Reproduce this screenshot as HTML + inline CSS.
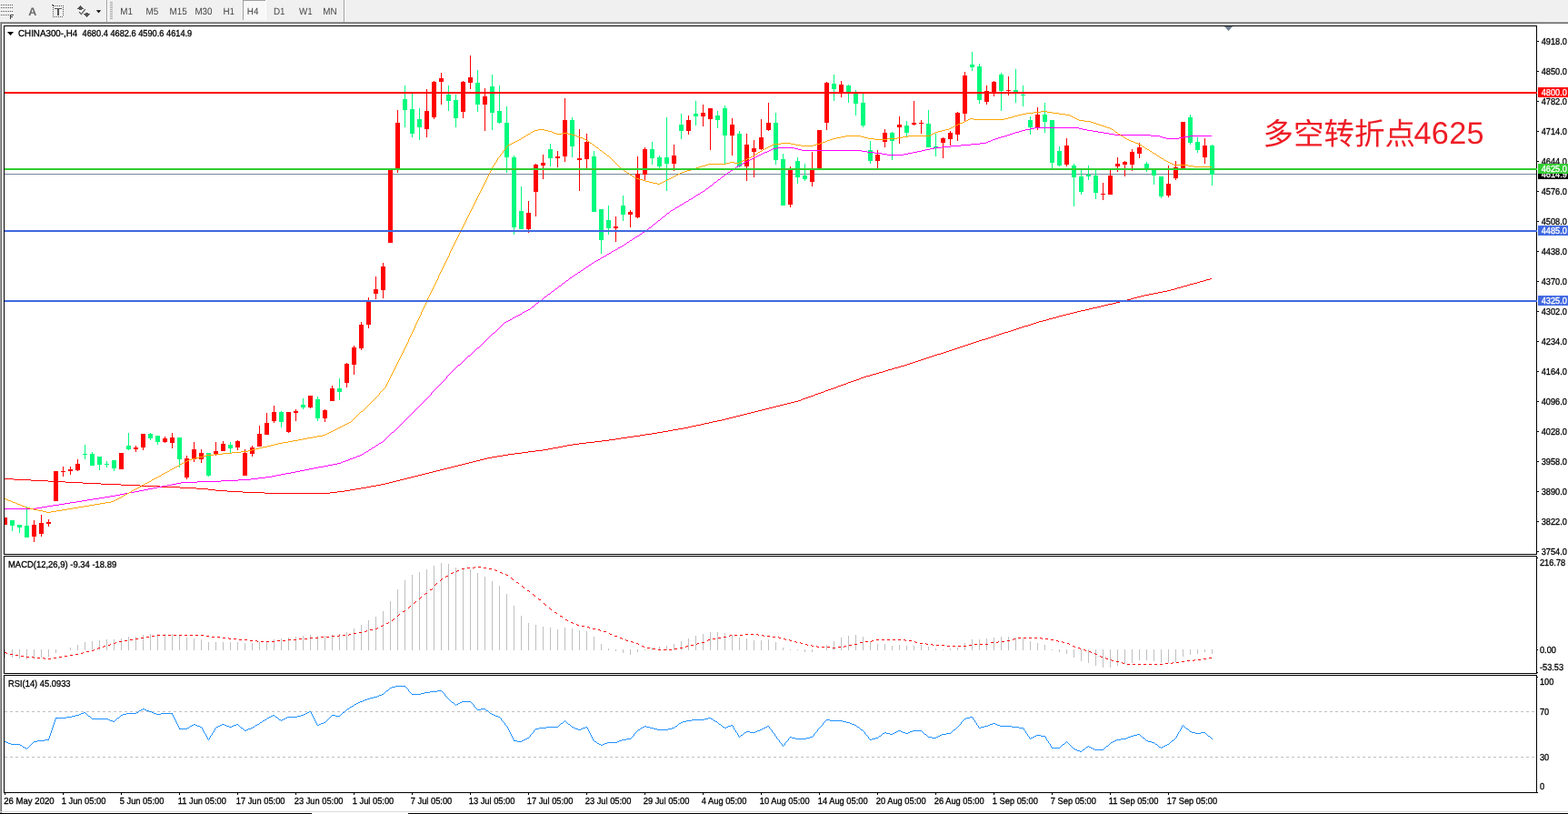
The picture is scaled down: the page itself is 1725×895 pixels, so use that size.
<!DOCTYPE html>
<html><head><meta charset="utf-8"><title>CHINA300-,H4</title>
<style>
html,body{margin:0;padding:0;background:#fff;}
body{width:1725px;height:895px;overflow:hidden;position:relative;}
svg{position:absolute;left:0;top:0;display:block;}
text{font-family:"Liberation Sans","Noto Sans CJK SC",sans-serif;text-rendering:geometricPrecision;}
.t{font-size:10.17px;fill:#000;stroke:#000;stroke-width:0.3px;}
.w{font-size:10.17px;fill:#fff;stroke:#fff;stroke-width:0.3px;}
.tf{font-size:10.6px;fill:#444;}
.note{font-size:33.5px;fill:#ee1c25;font-weight:400;}
.noted{font-size:34.3px;letter-spacing:0.3px;}
</style></head><body>
<svg width="1725" height="895" viewBox="0 0 1725 895">
<g id="toolbar" shape-rendering="crispEdges">
<rect x="0" y="0" width="1725" height="24" fill="#f0f0f0"/>
<rect x="0" y="24" width="1725" height="1" fill="#a0a0a0"/>
<rect x="0" y="25" width="1725" height="1" fill="#696969"/>
<rect x="0" y="24" width="1" height="871" fill="#a0a0a0"/><rect x="1" y="25" width="1" height="870" fill="#696969"/>
<rect x="117" y="0" width="1" height="24" fill="#a0a0a0"/><rect x="118" y="0" width="1" height="24" fill="#fff"/>
<rect x="378" y="0" width="1" height="24" fill="#a0a0a0"/><rect x="379" y="0" width="1" height="24" fill="#fff"/>
<rect x="121" y="2" width="3" height="1" fill="#a8a8a8"/><rect x="121" y="4" width="3" height="1" fill="#a8a8a8"/><rect x="121" y="6" width="3" height="1" fill="#a8a8a8"/><rect x="121" y="8" width="3" height="1" fill="#a8a8a8"/><rect x="121" y="10" width="3" height="1" fill="#a8a8a8"/><rect x="121" y="12" width="3" height="1" fill="#a8a8a8"/><rect x="121" y="14" width="3" height="1" fill="#a8a8a8"/><rect x="121" y="16" width="3" height="1" fill="#a8a8a8"/><rect x="121" y="18" width="3" height="1" fill="#a8a8a8"/><rect x="121" y="20" width="3" height="1" fill="#a8a8a8"/>
<rect x="267" y="0" width="25" height="22" fill="#f8f8f8"/><rect x="267" y="0" width="1" height="22" fill="#a0a0a0"/><rect x="267" y="0" width="25" height="1" fill="#a0a0a0"/><rect x="292" y="0" width="1" height="22" fill="#fff"/>
<rect x="1" y="5" width="1" height="1" fill="#555"/><rect x="3" y="5" width="1" height="1" fill="#555"/><rect x="5" y="5" width="1" height="1" fill="#555"/><rect x="7" y="5" width="1" height="1" fill="#555"/><rect x="9" y="5" width="1" height="1" fill="#555"/><rect x="11" y="5" width="1" height="1" fill="#555"/><rect x="13" y="5" width="1" height="1" fill="#555"/><rect x="1" y="8" width="1" height="1" fill="#555"/><rect x="3" y="8" width="1" height="1" fill="#555"/><rect x="5" y="8" width="1" height="1" fill="#555"/><rect x="7" y="8" width="1" height="1" fill="#555"/><rect x="9" y="8" width="1" height="1" fill="#555"/><rect x="11" y="8" width="1" height="1" fill="#555"/><rect x="13" y="8" width="1" height="1" fill="#555"/><rect x="1" y="12" width="1" height="1" fill="#555"/><rect x="3" y="12" width="1" height="1" fill="#555"/><rect x="5" y="12" width="1" height="1" fill="#555"/><rect x="7" y="12" width="1" height="1" fill="#555"/><rect x="9" y="12" width="1" height="1" fill="#555"/><rect x="11" y="12" width="1" height="1" fill="#555"/><rect x="13" y="12" width="1" height="1" fill="#555"/><rect x="1" y="16" width="1" height="1" fill="#555"/><rect x="3" y="16" width="1" height="1" fill="#555"/><rect x="5" y="16" width="1" height="1" fill="#555"/><rect x="7" y="16" width="1" height="1" fill="#555"/><rect x="9" y="16" width="1" height="1" fill="#555"/><path d="M11 16h4v1h-3v1h2v1h-2v2h-1z" fill="#444"/>
<rect x="57" y="5" width="1" height="1" fill="#555"/><rect x="58" y="5" width="1" height="1" fill="#555"/><rect x="58" y="6" width="1" height="1" fill="#555"/><rect x="59" y="6" width="1" height="1" fill="#555"/><rect x="61" y="6" width="1" height="1" fill="#555"/><rect x="63" y="6" width="1" height="1" fill="#555"/><rect x="65" y="6" width="1" height="1" fill="#555"/><rect x="67" y="6" width="1" height="1" fill="#555"/><rect x="69" y="6" width="1" height="1" fill="#555"/><rect x="58" y="8" width="1" height="1" fill="#555"/><rect x="58" y="10" width="1" height="1" fill="#555"/><rect x="58" y="12" width="1" height="1" fill="#555"/><rect x="58" y="14" width="1" height="1" fill="#555"/><rect x="58" y="16" width="1" height="1" fill="#555"/><rect x="58" y="18" width="1" height="1" fill="#555"/><rect x="69" y="8" width="1" height="1" fill="#555"/><rect x="69" y="10" width="1" height="1" fill="#555"/><rect x="69" y="12" width="1" height="1" fill="#555"/><rect x="69" y="14" width="1" height="1" fill="#555"/><rect x="69" y="16" width="1" height="1" fill="#555"/><rect x="60" y="18" width="1" height="1" fill="#555"/><rect x="62" y="18" width="1" height="1" fill="#555"/><rect x="64" y="18" width="1" height="1" fill="#555"/><rect x="66" y="18" width="1" height="1" fill="#555"/><rect x="68" y="18" width="1" height="1" fill="#555"/><rect x="60" y="9" width="8" height="1" fill="#555"/><rect x="63" y="10" width="2" height="7" fill="#555"/>
</g>
<text x="31.3" y="17" style="font-size:12.5px;font-weight:bold;fill:#666">A</text>
<g fill="#555" shape-rendering="crispEdges"><rect x="88" y="6" width="1" height="1"/><rect x="87" y="7" width="3" height="1"/><rect x="86" y="8" width="5" height="1"/><rect x="85" y="9" width="7" height="1"/><rect x="87" y="10" width="3" height="1"/><rect x="94" y="14" width="3" height="1"/><rect x="92" y="15" width="7" height="1"/><rect x="93" y="16" width="5" height="1"/><rect x="94" y="17" width="3" height="1"/><rect x="95" y="18" width="1" height="1"/></g><path d="M87.1 13.2L89.4 15.6L93.8 10.1" fill="none" stroke="#555" stroke-width="1.2"/>
<path d="M105.8 11.2h5.4l-2.7 3z" fill="#000"/>
<text class="tf" transform="translate(132.2,16) scale(0.93,1)">M1</text><text class="tf" transform="translate(160.5,16) scale(0.93,1)">M5</text><text class="tf" transform="translate(186.6,16) scale(0.93,1)">M15</text><text class="tf" transform="translate(214.4,16) scale(0.93,1)">M30</text><text class="tf" transform="translate(245.4,16) scale(0.93,1)">H1</text><text class="tf" transform="translate(271.8,16) scale(0.93,1)">H4</text><text class="tf" transform="translate(301,16) scale(0.93,1)">D1</text><text class="tf" transform="translate(329,16) scale(0.93,1)">W1</text><text class="tf" transform="translate(355.3,16) scale(0.93,1)">MN</text>
<g id="frames" shape-rendering="crispEdges" fill="#000">
<rect x="4" y="28" width="1687" height="1"/><rect x="4" y="28" width="1" height="844"/><rect x="1690" y="28" width="1" height="844"/><rect x="4" y="609" width="1687" height="1"/><rect x="4" y="610" width="1687" height="1" fill="#fff"/><rect x="4" y="611" width="1687" height="1"/><rect x="4" y="740" width="1687" height="1"/><rect x="4" y="741" width="1687" height="1" fill="#fff"/><rect x="4" y="742" width="1687" height="1"/><rect x="4" y="871" width="1687" height="1"/><rect x="0" y="892" width="1725" height="1" fill="#dcdcdc"/><rect x="0" y="894" width="343" height="1"/><rect x="449" y="894" width="1276" height="1"/>
<rect x="1691" y="45" width="2" height="1"/><rect x="1691" y="78" width="2" height="1"/><rect x="1691" y="111" width="2" height="1"/><rect x="1691" y="144" width="2" height="1"/><rect x="1691" y="177" width="2" height="1"/><rect x="1691" y="210" width="2" height="1"/><rect x="1691" y="243" width="2" height="1"/><rect x="1691" y="276" width="2" height="1"/><rect x="1691" y="309" width="2" height="1"/><rect x="1691" y="342" width="2" height="1"/><rect x="1691" y="375" width="2" height="1"/><rect x="1691" y="408" width="2" height="1"/><rect x="1691" y="441" width="2" height="1"/><rect x="1691" y="474" width="2" height="1"/><rect x="1691" y="507" width="2" height="1"/><rect x="1691" y="540" width="2" height="1"/><rect x="1691" y="573" width="2" height="1"/><rect x="1691" y="606" width="2" height="1"/><rect x="1691" y="613" width="1" height="1"/><rect x="1691" y="714" width="1" height="1"/><rect x="1691" y="739" width="1" height="1"/><rect x="1691" y="744" width="1" height="1"/><rect x="1691" y="871" width="1" height="1"/><rect x="5" y="872" width="1" height="2"/><rect x="69" y="872" width="1" height="2"/><rect x="133" y="872" width="1" height="2"/><rect x="197" y="872" width="1" height="2"/><rect x="261" y="872" width="1" height="2"/><rect x="325" y="872" width="1" height="2"/><rect x="389" y="872" width="1" height="2"/><rect x="453" y="872" width="1" height="2"/><rect x="517" y="872" width="1" height="2"/><rect x="581" y="872" width="1" height="2"/><rect x="645" y="872" width="1" height="2"/><rect x="709" y="872" width="1" height="2"/><rect x="773" y="872" width="1" height="2"/><rect x="837" y="872" width="1" height="2"/><rect x="901" y="872" width="1" height="2"/><rect x="965" y="872" width="1" height="2"/><rect x="1029" y="872" width="1" height="2"/><rect x="1093" y="872" width="1" height="2"/><rect x="1157" y="872" width="1" height="2"/><rect x="1221" y="872" width="1" height="2"/><rect x="1285" y="872" width="1" height="2"/></g>
<g id="main" shape-rendering="crispEdges">
<rect x="5" y="191" width="1685" height="1" fill="#778899"/>
<g id="candles">
<rect x="5" y="569" width="1" height="8" fill="#ff0000"/><rect x="5" y="569" width="3" height="8" fill="#ff0000"/>
<rect x="13" y="572" width="1" height="12" fill="#00fa7d"/><rect x="11" y="572" width="5" height="6" fill="#00fa7d"/>
<rect x="21" y="577" width="1" height="9" fill="#00fa7d"/><rect x="19" y="577" width="5" height="3" fill="#00fa7d"/>
<rect x="29" y="557" width="1" height="34" fill="#00fa7d"/><rect x="27" y="578" width="5" height="13" fill="#00fa7d"/>
<rect x="37" y="572" width="1" height="24" fill="#ff0000"/><rect x="35" y="577" width="5" height="13" fill="#ff0000"/>
<rect x="45" y="566" width="1" height="24" fill="#ff0000"/><rect x="43" y="575" width="5" height="12" fill="#ff0000"/>
<rect x="53" y="571" width="1" height="8" fill="#ff0000"/><rect x="51" y="574" width="5" height="2" fill="#ff0000"/>
<rect x="61" y="518" width="1" height="33" fill="#ff0000"/><rect x="59" y="518" width="5" height="33" fill="#ff0000"/>
<rect x="69" y="513" width="1" height="11" fill="#ff0000"/><rect x="67" y="518" width="5" height="1" fill="#ff0000"/>
<rect x="77" y="513" width="1" height="9" fill="#ff0000"/><rect x="75" y="516" width="5" height="2" fill="#ff0000"/>
<rect x="85" y="505" width="1" height="13" fill="#ff0000"/><rect x="83" y="510" width="5" height="7" fill="#ff0000"/>
<rect x="93" y="489" width="1" height="16" fill="#00fa7d"/><rect x="91" y="499" width="5" height="1" fill="#00fa7d"/>
<rect x="101" y="497" width="1" height="15" fill="#00fa7d"/><rect x="99" y="499" width="5" height="13" fill="#00fa7d"/>
<rect x="109" y="502" width="1" height="15" fill="#00fa7d"/><rect x="107" y="502" width="5" height="9" fill="#00fa7d"/>
<rect x="117" y="507" width="1" height="7" fill="#00fa7d"/><rect x="115" y="510" width="5" height="1" fill="#00fa7d"/>
<rect x="125" y="506" width="1" height="12" fill="#00fa7d"/><rect x="123" y="506" width="5" height="9" fill="#00fa7d"/>
<rect x="133" y="498" width="1" height="18" fill="#ff0000"/><rect x="131" y="498" width="5" height="18" fill="#ff0000"/>
<rect x="141" y="476" width="1" height="19" fill="#00fa7d"/><rect x="139" y="490" width="5" height="4" fill="#00fa7d"/>
<rect x="149" y="490" width="1" height="7" fill="#ff0000"/><rect x="147" y="492" width="5" height="2" fill="#ff0000"/>
<rect x="157" y="477" width="1" height="18" fill="#ff0000"/><rect x="155" y="477" width="5" height="15" fill="#ff0000"/>
<rect x="165" y="476" width="1" height="8" fill="#00fa7d"/><rect x="163" y="477" width="5" height="5" fill="#00fa7d"/>
<rect x="173" y="479" width="1" height="10" fill="#00fa7d"/><rect x="171" y="479" width="5" height="7" fill="#00fa7d"/>
<rect x="181" y="480" width="1" height="7" fill="#ff0000"/><rect x="179" y="482" width="5" height="4" fill="#ff0000"/>
<rect x="189" y="476" width="1" height="17" fill="#ff0000"/><rect x="187" y="481" width="5" height="6" fill="#ff0000"/>
<rect x="197" y="481" width="1" height="33" fill="#00fa7d"/><rect x="195" y="481" width="5" height="24" fill="#00fa7d"/>
<rect x="205" y="501" width="1" height="26" fill="#ff0000"/><rect x="203" y="504" width="5" height="21" fill="#ff0000"/>
<rect x="213" y="486" width="1" height="22" fill="#ff0000"/><rect x="211" y="494" width="5" height="11" fill="#ff0000"/>
<rect x="221" y="494" width="1" height="15" fill="#ff0000"/><rect x="219" y="498" width="5" height="7" fill="#ff0000"/>
<rect x="229" y="498" width="1" height="26" fill="#00fa7d"/><rect x="227" y="498" width="5" height="25" fill="#00fa7d"/>
<rect x="237" y="486" width="1" height="15" fill="#ff0000"/><rect x="235" y="496" width="5" height="4" fill="#ff0000"/>
<rect x="245" y="485" width="1" height="11" fill="#ff0000"/><rect x="243" y="488" width="5" height="8" fill="#ff0000"/>
<rect x="253" y="486" width="1" height="13" fill="#00fa7d"/><rect x="251" y="489" width="5" height="4" fill="#00fa7d"/>
<rect x="261" y="484" width="1" height="11" fill="#ff0000"/><rect x="259" y="485" width="5" height="7" fill="#ff0000"/>
<rect x="269" y="494" width="1" height="29" fill="#ff0000"/><rect x="267" y="498" width="5" height="25" fill="#ff0000"/>
<rect x="277" y="490" width="1" height="12" fill="#ff0000"/><rect x="275" y="492" width="5" height="7" fill="#ff0000"/>
<rect x="285" y="468" width="1" height="23" fill="#ff0000"/><rect x="283" y="477" width="5" height="14" fill="#ff0000"/>
<rect x="293" y="454" width="1" height="24" fill="#ff0000"/><rect x="291" y="465" width="5" height="13" fill="#ff0000"/>
<rect x="301" y="446" width="1" height="19" fill="#ff0000"/><rect x="299" y="453" width="5" height="10" fill="#ff0000"/>
<rect x="309" y="452" width="1" height="18" fill="#00fa7d"/><rect x="307" y="453" width="5" height="11" fill="#00fa7d"/>
<rect x="317" y="453" width="1" height="23" fill="#ff0000"/><rect x="315" y="453" width="5" height="22" fill="#ff0000"/>
<rect x="325" y="450" width="1" height="13" fill="#ff0000"/><rect x="323" y="452" width="5" height="2" fill="#ff0000"/>
<rect x="333" y="438" width="1" height="12" fill="#00fa7d"/><rect x="331" y="445" width="5" height="3" fill="#00fa7d"/>
<rect x="341" y="435" width="1" height="14" fill="#ff0000"/><rect x="339" y="435" width="5" height="13" fill="#ff0000"/>
<rect x="349" y="436" width="1" height="27" fill="#00fa7d"/><rect x="347" y="439" width="5" height="21" fill="#00fa7d"/>
<rect x="357" y="450" width="1" height="14" fill="#ff0000"/><rect x="355" y="451" width="5" height="9" fill="#ff0000"/>
<rect x="365" y="424" width="1" height="17" fill="#ff0000"/><rect x="363" y="427" width="5" height="14" fill="#ff0000"/>
<rect x="373" y="416" width="1" height="24" fill="#00fa7d"/><rect x="371" y="427" width="5" height="4" fill="#00fa7d"/>
<rect x="381" y="399" width="1" height="27" fill="#ff0000"/><rect x="379" y="400" width="5" height="21" fill="#ff0000"/>
<rect x="389" y="380" width="1" height="32" fill="#ff0000"/><rect x="387" y="382" width="5" height="19" fill="#ff0000"/>
<rect x="397" y="354" width="1" height="31" fill="#ff0000"/><rect x="395" y="357" width="5" height="26" fill="#ff0000"/>
<rect x="405" y="327" width="1" height="34" fill="#ff0000"/><rect x="403" y="331" width="5" height="26" fill="#ff0000"/>
<rect x="413" y="304" width="1" height="25" fill="#ff0000"/><rect x="411" y="318" width="5" height="5" fill="#ff0000"/>
<rect x="421" y="289" width="1" height="39" fill="#ff0000"/><rect x="419" y="293" width="5" height="26" fill="#ff0000"/>
<rect x="429" y="185" width="1" height="82" fill="#ff0000"/><rect x="427" y="185" width="5" height="82" fill="#ff0000"/>
<rect x="437" y="121" width="1" height="69" fill="#ff0000"/><rect x="435" y="135" width="5" height="51" fill="#ff0000"/>
<rect x="445" y="94" width="1" height="46" fill="#00fa7d"/><rect x="443" y="109" width="5" height="12" fill="#00fa7d"/>
<rect x="453" y="103" width="1" height="48" fill="#00fa7d"/><rect x="451" y="120" width="5" height="27" fill="#00fa7d"/>
<rect x="461" y="119" width="1" height="35" fill="#00fa7d"/><rect x="459" y="131" width="5" height="9" fill="#00fa7d"/>
<rect x="469" y="98" width="1" height="53" fill="#ff0000"/><rect x="467" y="122" width="5" height="20" fill="#ff0000"/>
<rect x="477" y="89" width="1" height="42" fill="#ff0000"/><rect x="475" y="90" width="5" height="39" fill="#ff0000"/>
<rect x="485" y="80" width="1" height="35" fill="#ff0000"/><rect x="483" y="86" width="5" height="4" fill="#ff0000"/>
<rect x="493" y="94" width="1" height="28" fill="#00fa7d"/><rect x="491" y="104" width="5" height="7" fill="#00fa7d"/>
<rect x="501" y="104" width="1" height="36" fill="#00fa7d"/><rect x="499" y="110" width="5" height="20" fill="#00fa7d"/>
<rect x="509" y="89" width="1" height="41" fill="#ff0000"/><rect x="507" y="90" width="5" height="33" fill="#ff0000"/>
<rect x="517" y="61" width="1" height="37" fill="#ff0000"/><rect x="515" y="85" width="5" height="6" fill="#ff0000"/>
<rect x="525" y="77" width="1" height="46" fill="#00fa7d"/><rect x="523" y="91" width="5" height="24" fill="#00fa7d"/>
<rect x="533" y="97" width="1" height="47" fill="#ff0000"/><rect x="531" y="106" width="5" height="9" fill="#ff0000"/>
<rect x="541" y="82" width="1" height="61" fill="#00fa7d"/><rect x="539" y="95" width="5" height="29" fill="#00fa7d"/>
<rect x="549" y="94" width="1" height="42" fill="#00fa7d"/><rect x="547" y="122" width="5" height="13" fill="#00fa7d"/>
<rect x="557" y="117" width="1" height="73" fill="#00fa7d"/><rect x="555" y="135" width="5" height="38" fill="#00fa7d"/>
<rect x="565" y="171" width="1" height="87" fill="#00fa7d"/><rect x="563" y="173" width="5" height="77" fill="#00fa7d"/>
<rect x="573" y="205" width="1" height="47" fill="#00fa7d"/><rect x="571" y="232" width="5" height="20" fill="#00fa7d"/>
<rect x="581" y="221" width="1" height="35" fill="#ff0000"/><rect x="579" y="234" width="5" height="18" fill="#ff0000"/>
<rect x="589" y="180" width="1" height="58" fill="#ff0000"/><rect x="587" y="181" width="5" height="30" fill="#ff0000"/>
<rect x="597" y="170" width="1" height="27" fill="#ff0000"/><rect x="595" y="179" width="5" height="3" fill="#ff0000"/>
<rect x="605" y="158" width="1" height="25" fill="#00fa7d"/><rect x="603" y="164" width="5" height="10" fill="#00fa7d"/>
<rect x="613" y="166" width="1" height="18" fill="#ff0000"/><rect x="611" y="172" width="5" height="2" fill="#ff0000"/>
<rect x="621" y="108" width="1" height="70" fill="#ff0000"/><rect x="619" y="132" width="5" height="40" fill="#ff0000"/>
<rect x="629" y="129" width="1" height="44" fill="#00fa7d"/><rect x="627" y="132" width="5" height="29" fill="#00fa7d"/>
<rect x="637" y="142" width="1" height="68" fill="#ff0000"/><rect x="635" y="174" width="5" height="2" fill="#ff0000"/>
<rect x="645" y="147" width="1" height="38" fill="#ff0000"/><rect x="643" y="156" width="5" height="19" fill="#ff0000"/>
<rect x="653" y="166" width="1" height="67" fill="#00fa7d"/><rect x="651" y="172" width="5" height="61" fill="#00fa7d"/>
<rect x="661" y="230" width="1" height="49" fill="#00fa7d"/><rect x="659" y="230" width="5" height="34" fill="#00fa7d"/>
<rect x="669" y="226" width="1" height="32" fill="#00fa7d"/><rect x="667" y="242" width="5" height="9" fill="#00fa7d"/>
<rect x="677" y="238" width="1" height="28" fill="#ff0000"/><rect x="675" y="249" width="5" height="2" fill="#ff0000"/>
<rect x="685" y="215" width="1" height="28" fill="#00fa7d"/><rect x="683" y="226" width="5" height="10" fill="#00fa7d"/>
<rect x="693" y="231" width="1" height="19" fill="#ff0000"/><rect x="691" y="233" width="5" height="3" fill="#ff0000"/>
<rect x="701" y="172" width="1" height="68" fill="#ff0000"/><rect x="699" y="191" width="5" height="48" fill="#ff0000"/>
<rect x="709" y="162" width="1" height="37" fill="#ff0000"/><rect x="707" y="164" width="5" height="28" fill="#ff0000"/>
<rect x="717" y="156" width="1" height="25" fill="#00fa7d"/><rect x="715" y="164" width="5" height="10" fill="#00fa7d"/>
<rect x="725" y="171" width="1" height="14" fill="#00fa7d"/><rect x="723" y="173" width="5" height="10" fill="#00fa7d"/>
<rect x="733" y="129" width="1" height="81" fill="#00fa7d"/><rect x="731" y="173" width="5" height="7" fill="#00fa7d"/>
<rect x="741" y="159" width="1" height="29" fill="#ff0000"/><rect x="739" y="171" width="5" height="9" fill="#ff0000"/>
<rect x="749" y="125" width="1" height="28" fill="#00fa7d"/><rect x="747" y="137" width="5" height="7" fill="#00fa7d"/>
<rect x="757" y="127" width="1" height="21" fill="#ff0000"/><rect x="755" y="132" width="5" height="12" fill="#ff0000"/>
<rect x="765" y="111" width="1" height="27" fill="#00fa7d"/><rect x="763" y="125" width="5" height="3" fill="#00fa7d"/>
<rect x="773" y="115" width="1" height="24" fill="#ff0000"/><rect x="771" y="124" width="5" height="4" fill="#ff0000"/>
<rect x="781" y="119" width="1" height="46" fill="#ff0000"/><rect x="779" y="119" width="5" height="12" fill="#ff0000"/>
<rect x="789" y="122" width="1" height="19" fill="#00fa7d"/><rect x="787" y="127" width="5" height="5" fill="#00fa7d"/>
<rect x="797" y="116" width="1" height="64" fill="#00fa7d"/><rect x="795" y="119" width="5" height="30" fill="#00fa7d"/>
<rect x="805" y="130" width="1" height="41" fill="#ff0000"/><rect x="803" y="137" width="5" height="12" fill="#ff0000"/>
<rect x="813" y="144" width="1" height="40" fill="#00fa7d"/><rect x="811" y="147" width="5" height="36" fill="#00fa7d"/>
<rect x="821" y="147" width="1" height="52" fill="#ff0000"/><rect x="819" y="159" width="5" height="24" fill="#ff0000"/>
<rect x="829" y="154" width="1" height="41" fill="#ff0000"/><rect x="827" y="163" width="5" height="4" fill="#ff0000"/>
<rect x="837" y="131" width="1" height="34" fill="#ff0000"/><rect x="835" y="151" width="5" height="13" fill="#ff0000"/>
<rect x="845" y="113" width="1" height="31" fill="#ff0000"/><rect x="843" y="135" width="5" height="8" fill="#ff0000"/>
<rect x="853" y="124" width="1" height="57" fill="#00fa7d"/><rect x="851" y="135" width="5" height="41" fill="#00fa7d"/>
<rect x="861" y="169" width="1" height="57" fill="#00fa7d"/><rect x="859" y="175" width="5" height="51" fill="#00fa7d"/>
<rect x="869" y="183" width="1" height="45" fill="#ff0000"/><rect x="867" y="187" width="5" height="38" fill="#ff0000"/>
<rect x="877" y="173" width="1" height="29" fill="#00fa7d"/><rect x="875" y="177" width="5" height="18" fill="#00fa7d"/>
<rect x="885" y="180" width="1" height="19" fill="#00fa7d"/><rect x="883" y="193" width="5" height="4" fill="#00fa7d"/>
<rect x="893" y="167" width="1" height="38" fill="#ff0000"/><rect x="891" y="186" width="5" height="14" fill="#ff0000"/>
<rect x="901" y="143" width="1" height="43" fill="#ff0000"/><rect x="899" y="143" width="5" height="43" fill="#ff0000"/>
<rect x="909" y="90" width="1" height="53" fill="#ff0000"/><rect x="907" y="91" width="5" height="44" fill="#ff0000"/>
<rect x="917" y="82" width="1" height="29" fill="#00fa7d"/><rect x="915" y="92" width="5" height="6" fill="#00fa7d"/>
<rect x="925" y="89" width="1" height="18" fill="#ff0000"/><rect x="923" y="93" width="5" height="9" fill="#ff0000"/>
<rect x="933" y="93" width="1" height="20" fill="#00fa7d"/><rect x="931" y="94" width="5" height="7" fill="#00fa7d"/>
<rect x="941" y="99" width="1" height="28" fill="#00fa7d"/><rect x="939" y="103" width="5" height="11" fill="#00fa7d"/>
<rect x="949" y="103" width="1" height="37" fill="#00fa7d"/><rect x="947" y="113" width="5" height="25" fill="#00fa7d"/>
<rect x="957" y="155" width="1" height="25" fill="#00fa7d"/><rect x="955" y="165" width="5" height="12" fill="#00fa7d"/>
<rect x="965" y="165" width="1" height="21" fill="#ff0000"/><rect x="963" y="170" width="5" height="7" fill="#ff0000"/>
<rect x="973" y="142" width="1" height="20" fill="#ff0000"/><rect x="971" y="146" width="5" height="10" fill="#ff0000"/>
<rect x="981" y="145" width="1" height="31" fill="#00fa7d"/><rect x="979" y="146" width="5" height="9" fill="#00fa7d"/>
<rect x="989" y="128" width="1" height="30" fill="#ff0000"/><rect x="987" y="137" width="5" height="3" fill="#ff0000"/>
<rect x="997" y="133" width="1" height="17" fill="#00fa7d"/><rect x="995" y="138" width="5" height="8" fill="#00fa7d"/>
<rect x="1005" y="111" width="1" height="27" fill="#ff0000"/><rect x="1003" y="135" width="5" height="2" fill="#ff0000"/>
<rect x="1013" y="132" width="1" height="15" fill="#ff0000"/><rect x="1011" y="135" width="5" height="1" fill="#ff0000"/>
<rect x="1021" y="121" width="1" height="41" fill="#00fa7d"/><rect x="1019" y="136" width="5" height="26" fill="#00fa7d"/>
<rect x="1029" y="147" width="1" height="25" fill="#00fa7d"/><rect x="1027" y="161" width="5" height="2" fill="#00fa7d"/>
<rect x="1037" y="151" width="1" height="23" fill="#ff0000"/><rect x="1035" y="152" width="5" height="5" fill="#ff0000"/>
<rect x="1045" y="144" width="1" height="16" fill="#ff0000"/><rect x="1043" y="146" width="5" height="7" fill="#ff0000"/>
<rect x="1053" y="123" width="1" height="32" fill="#ff0000"/><rect x="1051" y="124" width="5" height="24" fill="#ff0000"/>
<rect x="1061" y="79" width="1" height="54" fill="#ff0000"/><rect x="1059" y="83" width="5" height="42" fill="#ff0000"/>
<rect x="1069" y="57" width="1" height="21" fill="#00fa7d"/><rect x="1067" y="71" width="5" height="3" fill="#00fa7d"/>
<rect x="1077" y="70" width="1" height="44" fill="#00fa7d"/><rect x="1075" y="73" width="5" height="37" fill="#00fa7d"/>
<rect x="1085" y="94" width="1" height="21" fill="#ff0000"/><rect x="1083" y="100" width="5" height="12" fill="#ff0000"/>
<rect x="1093" y="89" width="1" height="17" fill="#ff0000"/><rect x="1091" y="90" width="5" height="12" fill="#ff0000"/>
<rect x="1101" y="80" width="1" height="42" fill="#00fa7d"/><rect x="1099" y="82" width="5" height="18" fill="#00fa7d"/>
<rect x="1109" y="84" width="1" height="21" fill="#ff0000"/><rect x="1107" y="99" width="5" height="1" fill="#ff0000"/>
<rect x="1117" y="76" width="1" height="37" fill="#00fa7d"/><rect x="1115" y="99" width="5" height="2" fill="#00fa7d"/>
<rect x="1125" y="94" width="1" height="23" fill="#00fa7d"/><rect x="1123" y="104" width="5" height="1" fill="#00fa7d"/>
<rect x="1133" y="128" width="1" height="20" fill="#00fa7d"/><rect x="1131" y="132" width="5" height="8" fill="#00fa7d"/>
<rect x="1141" y="118" width="1" height="25" fill="#ff0000"/><rect x="1139" y="126" width="5" height="15" fill="#ff0000"/>
<rect x="1149" y="113" width="1" height="33" fill="#00fa7d"/><rect x="1147" y="126" width="5" height="8" fill="#00fa7d"/>
<rect x="1157" y="132" width="1" height="53" fill="#00fa7d"/><rect x="1155" y="132" width="5" height="47" fill="#00fa7d"/>
<rect x="1165" y="161" width="1" height="22" fill="#00fa7d"/><rect x="1163" y="166" width="5" height="16" fill="#00fa7d"/>
<rect x="1173" y="152" width="1" height="31" fill="#ff0000"/><rect x="1171" y="160" width="5" height="21" fill="#ff0000"/>
<rect x="1181" y="180" width="1" height="47" fill="#00fa7d"/><rect x="1179" y="182" width="5" height="13" fill="#00fa7d"/>
<rect x="1189" y="187" width="1" height="27" fill="#00fa7d"/><rect x="1187" y="194" width="5" height="17" fill="#00fa7d"/>
<rect x="1197" y="182" width="1" height="16" fill="#00fa7d"/><rect x="1195" y="192" width="5" height="2" fill="#00fa7d"/>
<rect x="1205" y="187" width="1" height="32" fill="#00fa7d"/><rect x="1203" y="193" width="5" height="19" fill="#00fa7d"/>
<rect x="1213" y="201" width="1" height="19" fill="#ff0000"/><rect x="1211" y="213" width="5" height="1" fill="#ff0000"/>
<rect x="1221" y="187" width="1" height="27" fill="#ff0000"/><rect x="1219" y="193" width="5" height="21" fill="#ff0000"/>
<rect x="1229" y="173" width="1" height="16" fill="#ff0000"/><rect x="1227" y="180" width="5" height="3" fill="#ff0000"/>
<rect x="1237" y="177" width="1" height="17" fill="#ff0000"/><rect x="1235" y="178" width="5" height="3" fill="#ff0000"/>
<rect x="1245" y="164" width="1" height="24" fill="#ff0000"/><rect x="1243" y="167" width="5" height="14" fill="#ff0000"/>
<rect x="1253" y="157" width="1" height="17" fill="#ff0000"/><rect x="1251" y="162" width="5" height="7" fill="#ff0000"/>
<rect x="1261" y="178" width="1" height="11" fill="#00fa7d"/><rect x="1259" y="180" width="5" height="6" fill="#00fa7d"/>
<rect x="1269" y="186" width="1" height="17" fill="#00fa7d"/><rect x="1267" y="186" width="5" height="7" fill="#00fa7d"/>
<rect x="1277" y="194" width="1" height="24" fill="#00fa7d"/><rect x="1275" y="194" width="5" height="22" fill="#00fa7d"/>
<rect x="1285" y="182" width="1" height="35" fill="#ff0000"/><rect x="1283" y="202" width="5" height="13" fill="#ff0000"/>
<rect x="1293" y="177" width="1" height="21" fill="#ff0000"/><rect x="1291" y="184" width="5" height="12" fill="#ff0000"/>
<rect x="1301" y="134" width="1" height="51" fill="#ff0000"/><rect x="1299" y="134" width="5" height="51" fill="#ff0000"/>
<rect x="1309" y="126" width="1" height="33" fill="#00fa7d"/><rect x="1307" y="129" width="5" height="28" fill="#00fa7d"/>
<rect x="1317" y="151" width="1" height="17" fill="#00fa7d"/><rect x="1315" y="156" width="5" height="9" fill="#00fa7d"/>
<rect x="1325" y="152" width="1" height="28" fill="#ff0000"/><rect x="1323" y="160" width="5" height="13" fill="#ff0000"/>
<rect x="1333" y="159" width="1" height="45" fill="#00fa7d"/><rect x="1331" y="160" width="5" height="32" fill="#00fa7d"/>
</g>
<path d="M1331 306.5h2M1327 307.5h4M1324 308.5h3M1320 309.5h4M1317 310.5h3M1313 311.5h4M1309 312.5h4M1306 313.5h3M1302 314.5h4M1299 315.5h3M1295 316.5h4M1292 317.5h3M1288 318.5h4M1284 319.5h4M1279 320.5h5M1274 321.5h5M1269 322.5h5M1264 323.5h5M1259 324.5h5M1255 325.5h4M1251 326.5h4M1247 327.5h4M1244 328.5h3M1240 329.5h4M1236 330.5h4M1232 331.5h4M1228 332.5h4M1224 333.5h4M1219 334.5h5M1215 335.5h4M1211 336.5h4M1207 337.5h4M1202 338.5h5M1198 339.5h4M1194 340.5h4M1189 341.5h5M1185 342.5h4M1181 343.5h4M1177 344.5h4M1173 345.5h4M1169 346.5h4M1165 347.5h4M1162 348.5h3M1158 349.5h4M1154 350.5h4M1151 351.5h3M1147 352.5h4M1143 353.5h4M1140 354.5h3M1137 355.5h3M1134 356.5h3M1131 357.5h3M1127 358.5h4M1124 359.5h3M1121 360.5h3M1118 361.5h3M1115 362.5h3M1112 363.5h3M1109 364.5h3M1105 365.5h4M1102 366.5h3M1099 367.5h3M1096 368.5h3M1093 369.5h3M1090 370.5h3M1087 371.5h3M1084 372.5h3M1080 373.5h4M1077 374.5h3M1074 375.5h3M1071 376.5h3M1068 377.5h3M1065 378.5h3M1062 379.5h3M1059 380.5h3M1056 381.5h3M1053 382.5h3M1050 383.5h3M1047 384.5h3M1044 385.5h3M1041 386.5h3M1038 387.5h3M1035 388.5h3M1031 389.5h4M1028 390.5h3M1025 391.5h3M1022 392.5h3M1019 393.5h3M1016 394.5h3M1013 395.5h3M1010 396.5h3M1007 397.5h3M1004 398.5h3M1001 399.5h3M998 400.5h3M995 401.5h3M991 402.5h4M988 403.5h3M984 404.5h4M981 405.5h3M977 406.5h4M974 407.5h3M971 408.5h3M967 409.5h4M964 410.5h3M960 411.5h4M957 412.5h3M953 413.5h4M950 414.5h3M947 415.5h3M945 416.5h2M942 417.5h3M939 418.5h3M936 419.5h3M933 420.5h3M931 421.5h2M928 422.5h3M925 423.5h3M922 424.5h3M920 425.5h2M917 426.5h3M914 427.5h3M911 428.5h3M908 429.5h3M906 430.5h2M903 431.5h3M900 432.5h3M897 433.5h3M895 434.5h2M892 435.5h3M889 436.5h3M886 437.5h3M883 438.5h3M881 439.5h2M878 440.5h3M874 441.5h4M870 442.5h4M866 443.5h4M862 444.5h4M858 445.5h4M854 446.5h4M850 447.5h4M846 448.5h4M842 449.5h4M838 450.5h4M834 451.5h4M830 452.5h4M826 453.5h4M822 454.5h4M818 455.5h4M814 456.5h4M810 457.5h4M806 458.5h4M802 459.5h4M798 460.5h4M794 461.5h4M789 462.5h5M784 463.5h5M780 464.5h4M775 465.5h5M771 466.5h4M766 467.5h5M761 468.5h5M757 469.5h4M752 470.5h5M746 471.5h6M740 472.5h6M735 473.5h5M729 474.5h6M723 475.5h6M717 476.5h6M710 477.5h7M704 478.5h6M697 479.5h7M690 480.5h7M683 481.5h7M677 482.5h6M670 483.5h7M662 484.5h8M654 485.5h8M645 486.5h9M637 487.5h8M630 488.5h7M624 489.5h6M619 490.5h5M614 491.5h5M608 492.5h6M603 493.5h5M597 494.5h6M589 495.5h8M581 496.5h8M574 497.5h7M566 498.5h8M559 499.5h7M553 500.5h6M547 501.5h6M541 502.5h6M536 503.5h5M532 504.5h4M528 505.5h4M524 506.5h4M520 507.5h4M516 508.5h4M512 509.5h4M508 510.5h4M504 511.5h4M500 512.5h4M496 513.5h4M492 514.5h4M488 515.5h4M484 516.5h4M480 517.5h4M476 518.5h4M472 519.5h4M468 520.5h4M464 521.5h4M460 522.5h4M456 523.5h4M452 524.5h4M448 525.5h4M5 526.5h10M444 526.5h4M15 527.5h19M440 527.5h4M34 528.5h19M436 528.5h4M53 529.5h19M432 529.5h4M72 530.5h19M428 530.5h4M91 531.5h20M424 531.5h4M111 532.5h22M419 532.5h5M133 533.5h21M414 533.5h5M154 534.5h22M408 534.5h6M176 535.5h22M403 535.5h5M198 536.5h18M397 536.5h6M216 537.5h13M391 537.5h6M229 538.5h8M385 538.5h6M237 539.5h13M379 539.5h6M250 540.5h17M371 540.5h8M267 541.5h24M363 541.5h8M291 542.5h72" fill="none" stroke="#ff0000" stroke-width="1"/>
<path d="M1138 140.5h49M1133 141.5h5M1187 141.5h4M1128 142.5h5M1191 142.5h5M1124 143.5h4M1196 143.5h6M1121 144.5h3M1202 144.5h6M1117 145.5h4M1208 145.5h6M1114 146.5h3M1214 146.5h6M1111 147.5h3M1220 147.5h6M1108 148.5h3M1226 148.5h40M1105 149.5h3M1266 149.5h10M1309 149.5h24M1101 150.5h4M1276 150.5h3M1302 150.5h7M1098 151.5h3M1279 151.5h4M1297 151.5h5M1095 152.5h3M1283 152.5h14M1092 153.5h3M1090 154.5h2M1087 155.5h3M1085 156.5h2M1078 157.5h7M1068 158.5h10M1057 159.5h11M1046 160.5h11M1036 161.5h10M855 162.5h19M1028 162.5h8M850 163.5h5M874 163.5h4M1023 163.5h5M848 164.5h2M878 164.5h4M1018 164.5h5M846 165.5h2M882 165.5h66M1014 165.5h4M844 166.5h2M948 166.5h6M1009 166.5h5M841 167.5h3M954 167.5h8M1004 167.5h5M839 168.5h2M962 168.5h8M999 168.5h5M837 169.5h2M970 169.5h6M994 169.5h5M835 170.5h2M976 170.5h18M833 171.5h2M831 172.5h2M829 173.5h2M827 174.5h2M825 175.5h2M823 176.5h2M821 177.5h2M819 178.5h2M817 179.5h2M814 181.5h2M812 182.5h2M810 183.5h2M807 185.5h2M804 187.5h2M801 189.5h2M798 191.5h2M794 194.5h2M790 197.5h2M786 200.5h2M781 204.5h2M777 207.5h2M773 210.5h2M771 211.5h2M768 213.5h2M766 214.5h2M763 216.5h2M760 218.5h2M758 219.5h2M755 221.5h2M753 222.5h2M750 224.5h2M748 225.5h2M745 227.5h2M743 228.5h2M740 230.5h2M738 231.5h2M734 234.5h2M729 238.5h2M724 242.5h2M719 246.5h2M714 250.5h2M710 253.5h2M707 255.5h2M704 257.5h2M701 259.5h2M699 260.5h2M696 262.5h2M693 264.5h2M690 266.5h2M687 268.5h2M684 270.5h2M682 271.5h2M680 272.5h2M677 274.5h2M675 275.5h2M673 276.5h2M670 278.5h2M668 279.5h2M665 281.5h2M663 282.5h2M661 283.5h2M658 285.5h2M656 286.5h2M654 287.5h2M651 289.5h2M648 291.5h2M645 293.5h2M642 295.5h2M639 297.5h2M636 299.5h2M633 301.5h2M630 303.5h2M627 305.5h2M623 308.5h2M619 311.5h2M615 314.5h2M611 317.5h2M607 320.5h2M603 323.5h2M599 326.5h2M594 330.5h2M590 333.5h2M585 337.5h2M581 340.5h2M579 341.5h2M577 342.5h2M575 343.5h2M572 345.5h2M570 346.5h2M568 347.5h2M566 348.5h2M564 349.5h2M561 351.5h2M559 352.5h2M557 353.5h2M555 354.5h2M542 366.5h2M525 382.5h2M515 391.5h2M504 401.5h2M431 475.5h2M419 486.5h2M417 487.5h2M414 489.5h2M411 491.5h2M409 492.5h2M406 494.5h2M403 496.5h2M401 497.5h2M398 499.5h2M396 500.5h2M393 501.5h3M391 502.5h2M388 503.5h3M385 504.5h3M383 505.5h2M380 506.5h3M377 507.5h3M375 508.5h2M371 509.5h4M366 510.5h5M361 511.5h5M356 512.5h5M350 513.5h6M345 514.5h5M340 515.5h5M335 516.5h5M330 517.5h5M325 518.5h5M320 519.5h5M314 520.5h6M309 521.5h5M304 522.5h5M299 523.5h5M292 524.5h7M284 525.5h8M276 526.5h8M262 527.5h14M243 528.5h19M217 529.5h26M199 530.5h18M194 531.5h5M189 532.5h5M184 533.5h5M178 534.5h6M173 535.5h5M168 536.5h5M163 537.5h5M158 538.5h5M153 539.5h5M148 540.5h5M142 541.5h6M137 542.5h5M132 543.5h5M127 544.5h5M121 545.5h6M115 546.5h6M109 547.5h6M102 548.5h7M96 549.5h6M90 550.5h6M84 551.5h6M77 552.5h7M71 553.5h6M65 554.5h6M58 555.5h7M52 556.5h6M46 557.5h6M40 558.5h6M5 559.5h35M400.5 498v1M405.5 495v1M408.5 493v1M413.5 490v1M416.5 488v1M421.5 485v1M422.5 484v1M423.5 483v1M424.5 482v1M425.5 481v1M426.5 480v1M427.5 479v1M428.5 478v1M429.5 477v1M430.5 476v1M433.5 474v1M434.5 473v1M435.5 472v1M436.5 471v1M437.5 470v1M438.5 469v1M439.5 468v1M440.5 467v1M441.5 466v1M442.5 465v1M443.5 464v1M444.5 463v1M445.5 462v1M446.5 461v1M447.5 460v1M448.5 459v1M449.5 458v1M450.5 457v1M451.5 456v1M452.5 455v1M453.5 454v1M454.5 453v1M455.5 452v1M456.5 451v1M457.5 450v1M458.5 449v1M459.5 448v1M460.5 447v1M461.5 446v1M462.5 445v1M463.5 444v1M464.5 443v1M465.5 442v1M466.5 441v1M467.5 440v1M468.5 439v1M469.5 438v1M470.5 437v1M471.5 436v1M472.5 435v1M473.5 434v1M474.5 432v2M475.5 431v1M476.5 430v1M477.5 429v1M478.5 428v1M479.5 427v1M480.5 426v1M481.5 425v1M482.5 424v1M483.5 423v1M484.5 422v1M485.5 421v1M486.5 420v1M487.5 419v1M488.5 418v1M489.5 417v1M490.5 416v1M491.5 414v2M492.5 413v1M493.5 412v1M494.5 411v1M495.5 410v1M496.5 409v1M497.5 408v1M498.5 407v1M499.5 406v1M500.5 405v1M501.5 404v1M502.5 403v1M503.5 402v1M506.5 400v1M507.5 399v1M508.5 398v1M509.5 397v1M510.5 396v1M511.5 395v1M512.5 394v1M513.5 393v1M514.5 392v1M517.5 390v1M518.5 389v1M519.5 388v1M520.5 387v1M521.5 386v1M522.5 385v1M523.5 384v1M524.5 383v1M527.5 381v1M528.5 380v1M529.5 379v1M530.5 378v1M531.5 377v1M532.5 376v1M533.5 375v1M534.5 374v1M535.5 373v1M536.5 372v1M537.5 371v1M538.5 370v1M539.5 369v1M540.5 368v1M541.5 367v1M544.5 365v1M545.5 364v1M546.5 363v1M547.5 362v1M548.5 361v1M549.5 360v1M550.5 359v1M551.5 358v1M552.5 357v1M553.5 356v1M554.5 355v1M563.5 350v1M574.5 344v1M583.5 339v1M584.5 338v1M587.5 336v1M588.5 335v1M589.5 334v1M592.5 332v1M593.5 331v1M596.5 329v1M597.5 328v1M598.5 327v1M601.5 325v1M602.5 324v1M605.5 322v1M606.5 321v1M609.5 319v1M610.5 318v1M613.5 316v1M614.5 315v1M617.5 313v1M618.5 312v1M621.5 310v1M622.5 309v1M625.5 307v1M626.5 306v1M629.5 304v1M632.5 302v1M635.5 300v1M638.5 298v1M641.5 296v1M644.5 294v1M647.5 292v1M650.5 290v1M653.5 288v1M660.5 284v1M667.5 280v1M672.5 277v1M679.5 273v1M686.5 269v1M689.5 267v1M692.5 265v1M695.5 263v1M698.5 261v1M703.5 258v1M706.5 256v1M709.5 254v1M712.5 252v1M713.5 251v1M716.5 249v1M717.5 248v1M718.5 247v1M721.5 245v1M722.5 244v1M723.5 243v1M726.5 241v1M727.5 240v1M728.5 239v1M731.5 237v1M732.5 236v1M733.5 235v1M736.5 233v1M737.5 232v1M742.5 229v1M747.5 226v1M752.5 223v1M757.5 220v1M762.5 217v1M765.5 215v1M770.5 212v1M775.5 209v1M776.5 208v1M779.5 206v1M780.5 205v1M783.5 203v1M784.5 202v1M785.5 201v1M788.5 199v1M789.5 198v1M792.5 196v1M793.5 195v1M796.5 193v1M797.5 192v1M800.5 190v1M803.5 188v1M806.5 186v1M809.5 184v1M816.5 180v1" fill="none" stroke="#ff00ff" stroke-width="1"/>
<path d="M1145 122.5h7M1137 123.5h8M1152 123.5h6M1129 124.5h8M1158 124.5h7M1124 125.5h5M1165 125.5h7M1120 126.5h4M1172 126.5h5M1116 127.5h4M1177 127.5h2M1113 128.5h3M1179 128.5h2M1109 129.5h4M1181 129.5h2M1067 130.5h4M1105 130.5h4M1183 130.5h2M1065 131.5h2M1071 131.5h34M1185 131.5h2M1063 132.5h2M1187 132.5h6M1061 133.5h2M1193 133.5h7M1059 134.5h2M1200 134.5h3M1056 135.5h3M1203 135.5h3M1054 136.5h2M1206 136.5h3M1052 137.5h2M1209 137.5h3M1050 138.5h2M1212 138.5h3M1048 139.5h2M1215 139.5h3M1046 140.5h2M1218 140.5h3M1044 141.5h2M1221 141.5h2M592 142.5h7M1040 142.5h4M1223 142.5h2M588 143.5h4M599 143.5h4M1036 143.5h4M586 144.5h2M603 144.5h4M1032 144.5h4M584 145.5h2M607 145.5h2M1029 145.5h3M1227 145.5h2M609 146.5h3M618 146.5h7M1027 146.5h2M581 147.5h2M612 147.5h6M625 147.5h4M1025 147.5h2M1230 147.5h2M579 148.5h2M629 148.5h4M1023 148.5h2M633 149.5h2M930 149.5h17M999 149.5h24M1233 149.5h2M576 150.5h2M635 150.5h3M925 150.5h5M947 150.5h4M993 150.5h6M1235 150.5h2M574 151.5h2M638 151.5h3M920 151.5h5M951 151.5h4M987 151.5h6M641 152.5h2M916 152.5h4M955 152.5h7M976 152.5h11M1238 152.5h2M571 153.5h2M643 153.5h2M913 153.5h3M962 153.5h14M1240 153.5h2M569 154.5h2M645 154.5h2M910 154.5h3M1242 154.5h2M567 155.5h2M908 155.5h2M1244 155.5h3M565 156.5h2M905 156.5h3M1247 156.5h2M563 157.5h2M649 157.5h2M859 157.5h11M902 157.5h3M1249 157.5h3M561 158.5h2M851 158.5h8M870 158.5h5M898 158.5h4M1252 158.5h2M559 159.5h2M652 159.5h2M849 159.5h2M875 159.5h6M895 159.5h3M1254 159.5h2M847 160.5h2M881 160.5h14M845 161.5h2M1257 161.5h2M656 162.5h2M843 162.5h2M841 163.5h2M1260 163.5h2M839 164.5h2M1262 164.5h2M660 165.5h2M836 166.5h2M1265 166.5h2M834 167.5h2M664 168.5h2M1268 168.5h2M831 169.5h2M1270 169.5h2M668 171.5h2M828 171.5h2M1273 171.5h2M826 172.5h2M824 173.5h2M1276 173.5h2M822 174.5h2M1278 174.5h2M820 175.5h2M817 176.5h3M1281 176.5h2M815 177.5h2M1283 177.5h2M803 178.5h5M813 178.5h2M1285 178.5h2M799 179.5h4M808 179.5h5M1287 179.5h2M779 180.5h20M1289 180.5h2M776 181.5h3M1291 181.5h16M772 182.5h4M1307 182.5h6M769 183.5h3M1313 183.5h20M766 184.5h3M763 185.5h3M684 186.5h2M760 186.5h3M756 187.5h4M687 188.5h2M753 188.5h3M750 189.5h3M690 190.5h2M748 190.5h2M746 191.5h2M693 192.5h2M744 192.5h2M742 193.5h2M696 194.5h2M740 194.5h2M698 195.5h2M738 195.5h2M700 196.5h3M736 196.5h2M703 197.5h4M734 197.5h2M707 198.5h3M732 198.5h2M710 199.5h4M730 199.5h2M714 200.5h4M728 200.5h2M718 201.5h5M726 201.5h2M723 202.5h3M397 452.5h2M384 464.5h2M382 465.5h2M380 466.5h2M378 467.5h2M376 468.5h2M374 469.5h2M372 470.5h2M370 471.5h2M368 472.5h2M366 473.5h2M364 474.5h2M362 475.5h2M360 476.5h2M358 477.5h2M355 478.5h3M349 479.5h6M344 480.5h5M338 481.5h6M333 482.5h5M328 483.5h5M322 484.5h6M317 485.5h5M311 486.5h6M306 487.5h5M302 488.5h4M298 489.5h4M294 490.5h4M289 491.5h5M285 492.5h4M281 493.5h4M277 494.5h4M273 495.5h4M265 496.5h8M255 497.5h10M245 498.5h10M235 499.5h10M227 500.5h8M223 501.5h4M219 502.5h4M215 503.5h4M211 504.5h4M208 505.5h3M206 506.5h2M204 507.5h2M202 508.5h2M200 509.5h2M198 510.5h2M195 512.5h2M193 513.5h2M191 514.5h2M189 515.5h2M187 516.5h2M184 518.5h2M182 519.5h2M180 520.5h2M178 521.5h2M175 523.5h2M173 524.5h2M171 525.5h2M169 526.5h2M167 527.5h2M164 529.5h2M162 530.5h2M160 531.5h2M158 532.5h2M156 533.5h2M153 535.5h2M151 536.5h2M149 537.5h2M147 538.5h2M145 539.5h2M142 541.5h2M140 542.5h2M138 543.5h2M136 544.5h2M133 546.5h2M131 547.5h2M5 548.5h2M129 548.5h2M7 549.5h2M127 549.5h2M9 550.5h3M125 550.5h2M12 551.5h2M122 551.5h3M14 552.5h3M116 552.5h6M17 553.5h2M110 553.5h6M19 554.5h3M104 554.5h6M22 555.5h2M98 555.5h6M24 556.5h3M92 556.5h6M27 557.5h2M86 557.5h6M29 558.5h4M80 558.5h6M33 559.5h4M74 559.5h6M37 560.5h5M68 560.5h6M42 561.5h5M62 561.5h6M47 562.5h4M56 562.5h6M51 563.5h5M135.5 545v1M144.5 540v1M155.5 534v1M166.5 528v1M177.5 522v1M186.5 517v1M197.5 511v1M386.5 463v1M387.5 462v1M388.5 461v1M389.5 460v1M390.5 459v1M391.5 458v1M392.5 457v1M393.5 456v1M394.5 455v1M395.5 454v1M396.5 453v1M399.5 451v1M400.5 450v1M401.5 449v1M402.5 448v1M403.5 447v1M404.5 446v1M405.5 445v1M406.5 444v1M407.5 443v1M408.5 442v1M409.5 441v1M410.5 440v1M411.5 439v1M412.5 438v1M413.5 437v1M414.5 436v1M415.5 435v1M416.5 434v1M417.5 432v2M418.5 431v1M419.5 430v1M420.5 429v1M421.5 428v1M422.5 427v1M423.5 426v1M424.5 424v2M425.5 422v2M426.5 420v2M427.5 418v2M428.5 416v2M429.5 414v2M430.5 412v2M431.5 410v2M432.5 408v2M433.5 406v2M434.5 404v2M435.5 402v2M436.5 400v2M437.5 398v2M438.5 396v2M439.5 394v2M440.5 392v2M441.5 390v2M442.5 388v2M443.5 386v2M444.5 384v2M445.5 382v2M446.5 380v2M447.5 378v2M448.5 376v2M449.5 373v3M450.5 371v2M451.5 369v2M452.5 367v2M453.5 365v2M454.5 363v2M455.5 361v2M456.5 358v3M457.5 356v2M458.5 354v2M459.5 352v2M460.5 350v2M461.5 348v2M462.5 346v2M463.5 343v3M464.5 341v2M465.5 339v2M466.5 337v2M467.5 335v2M468.5 333v2M469.5 331v2M470.5 328v3M471.5 326v2M472.5 324v2M473.5 322v2M474.5 320v2M475.5 318v2M476.5 316v2M477.5 314v2M478.5 312v2M479.5 310v2M480.5 308v2M481.5 306v2M482.5 303v3M483.5 301v2M484.5 299v2M485.5 297v2M486.5 295v2M487.5 293v2M488.5 291v2M489.5 289v2M490.5 287v2M491.5 285v2M492.5 283v2M493.5 281v2M494.5 278v3M495.5 276v2M496.5 274v2M497.5 272v2M498.5 270v2M499.5 268v2M500.5 266v2M501.5 264v2M502.5 262v2M503.5 260v2M504.5 258v2M505.5 256v2M506.5 254v2M507.5 252v2M508.5 250v2M509.5 248v2M510.5 246v2M511.5 244v2M512.5 242v2M513.5 240v2M514.5 238v2M515.5 236v2M516.5 234v2M517.5 232v2M518.5 230v2M519.5 228v2M520.5 226v2M521.5 224v2M522.5 222v2M523.5 220v2M524.5 218v2M525.5 216v2M526.5 214v2M527.5 212v2M528.5 210v2M529.5 208v2M530.5 206v2M531.5 204v2M532.5 202v2M533.5 200v2M534.5 198v2M535.5 196v2M536.5 194v2M537.5 192v2M538.5 190v2M539.5 188v2M540.5 186v2M541.5 184v2M542.5 182v2M543.5 181v1M544.5 179v2M545.5 178v1M546.5 176v2M547.5 174v2M548.5 173v1M549.5 172v1M550.5 170v2M551.5 169v1M552.5 168v1M553.5 166v2M554.5 165v1M555.5 164v1M556.5 162v2M557.5 161v1M558.5 160v1M573.5 152v1M578.5 149v1M583.5 146v1M647.5 155v1M648.5 156v1M651.5 158v1M654.5 160v1M655.5 161v1M658.5 163v1M659.5 164v1M662.5 166v1M663.5 167v1M666.5 169v1M667.5 170v1M670.5 172v1M671.5 173v1M672.5 174v1M673.5 175v1M674.5 176v1M675.5 177v1M676.5 178v1M677.5 179v1M678.5 180v1M679.5 181v1M680.5 182v1M681.5 183v1M682.5 184v1M683.5 185v1M686.5 187v1M689.5 189v1M692.5 191v1M695.5 193v1M830.5 170v1M833.5 168v1M838.5 165v1M1225.5 143v1M1226.5 144v1M1229.5 146v1M1232.5 148v1M1237.5 151v1M1256.5 160v1M1259.5 162v1M1264.5 165v1M1267.5 167v1M1272.5 170v1M1275.5 172v1M1280.5 175v1" fill="none" stroke="#ffa500" stroke-width="1"/>
<rect x="5" y="101" width="1686" height="2" fill="#ff0000"/>
<rect x="5" y="185" width="1686" height="2" fill="#32cd32"/>
<rect x="5" y="253" width="1686" height="2" fill="#4169e1"/>
<rect x="5" y="330" width="1686" height="2" fill="#4169e1"/>
<path d="M1347 29h9l-4.5 5z" fill="#708090" shape-rendering="auto"/>
<rect x="1692" y="186" width="33" height="11" fill="#000"/>
<rect x="1692" y="96" width="33" height="11" fill="#ff0000"/>
<rect x="1692" y="180" width="33" height="11" fill="#32cd32"/>
<rect x="1692" y="248" width="33" height="11" fill="#4169e1"/>
<rect x="1692" y="325" width="33" height="11" fill="#4169e1"/>
</g>
<g id="macd" shape-rendering="crispEdges">
<rect x="5" y="714" width="1" height="9" fill="#c0c0c0"/><rect x="13" y="714" width="1" height="9" fill="#c0c0c0"/><rect x="21" y="714" width="1" height="10" fill="#c0c0c0"/><rect x="29" y="714" width="1" height="11" fill="#c0c0c0"/><rect x="37" y="714" width="1" height="10" fill="#c0c0c0"/><rect x="45" y="714" width="1" height="9" fill="#c0c0c0"/><rect x="53" y="714" width="1" height="8" fill="#c0c0c0"/><rect x="61" y="714" width="1" height="4" fill="#c0c0c0"/><rect x="77" y="712" width="1" height="3" fill="#c0c0c0"/><rect x="85" y="709" width="1" height="6" fill="#c0c0c0"/><rect x="93" y="706" width="1" height="9" fill="#c0c0c0"/><rect x="101" y="705" width="1" height="10" fill="#c0c0c0"/><rect x="109" y="704" width="1" height="11" fill="#c0c0c0"/><rect x="117" y="703" width="1" height="12" fill="#c0c0c0"/><rect x="125" y="703" width="1" height="12" fill="#c0c0c0"/><rect x="133" y="702" width="1" height="13" fill="#c0c0c0"/><rect x="141" y="700" width="1" height="15" fill="#c0c0c0"/><rect x="149" y="700" width="1" height="15" fill="#c0c0c0"/><rect x="157" y="698" width="1" height="17" fill="#c0c0c0"/><rect x="165" y="697" width="1" height="18" fill="#c0c0c0"/><rect x="173" y="697" width="1" height="18" fill="#c0c0c0"/><rect x="181" y="697" width="1" height="18" fill="#c0c0c0"/><rect x="189" y="697" width="1" height="18" fill="#c0c0c0"/><rect x="197" y="698" width="1" height="17" fill="#c0c0c0"/><rect x="205" y="701" width="1" height="14" fill="#c0c0c0"/><rect x="213" y="702" width="1" height="13" fill="#c0c0c0"/><rect x="221" y="703" width="1" height="12" fill="#c0c0c0"/><rect x="229" y="706" width="1" height="9" fill="#c0c0c0"/><rect x="237" y="706" width="1" height="9" fill="#c0c0c0"/><rect x="245" y="706" width="1" height="9" fill="#c0c0c0"/><rect x="253" y="706" width="1" height="9" fill="#c0c0c0"/><rect x="261" y="706" width="1" height="9" fill="#c0c0c0"/><rect x="269" y="707" width="1" height="8" fill="#c0c0c0"/><rect x="277" y="707" width="1" height="8" fill="#c0c0c0"/><rect x="285" y="706" width="1" height="9" fill="#c0c0c0"/><rect x="293" y="705" width="1" height="10" fill="#c0c0c0"/><rect x="301" y="703" width="1" height="12" fill="#c0c0c0"/><rect x="309" y="702" width="1" height="13" fill="#c0c0c0"/><rect x="317" y="701" width="1" height="14" fill="#c0c0c0"/><rect x="325" y="700" width="1" height="15" fill="#c0c0c0"/><rect x="333" y="699" width="1" height="16" fill="#c0c0c0"/><rect x="341" y="698" width="1" height="17" fill="#c0c0c0"/><rect x="349" y="699" width="1" height="16" fill="#c0c0c0"/><rect x="357" y="699" width="1" height="16" fill="#c0c0c0"/><rect x="365" y="698" width="1" height="17" fill="#c0c0c0"/><rect x="373" y="697" width="1" height="18" fill="#c0c0c0"/><rect x="381" y="695" width="1" height="20" fill="#c0c0c0"/><rect x="389" y="691" width="1" height="24" fill="#c0c0c0"/><rect x="397" y="687" width="1" height="28" fill="#c0c0c0"/><rect x="405" y="682" width="1" height="33" fill="#c0c0c0"/><rect x="413" y="678" width="1" height="37" fill="#c0c0c0"/><rect x="421" y="672" width="1" height="43" fill="#c0c0c0"/><rect x="429" y="661" width="1" height="54" fill="#c0c0c0"/><rect x="437" y="648" width="1" height="67" fill="#c0c0c0"/><rect x="445" y="638" width="1" height="77" fill="#c0c0c0"/><rect x="453" y="632" width="1" height="83" fill="#c0c0c0"/><rect x="461" y="629" width="1" height="86" fill="#c0c0c0"/><rect x="469" y="626" width="1" height="89" fill="#c0c0c0"/><rect x="477" y="622" width="1" height="93" fill="#c0c0c0"/><rect x="485" y="619" width="1" height="96" fill="#c0c0c0"/><rect x="493" y="620" width="1" height="95" fill="#c0c0c0"/><rect x="501" y="624" width="1" height="91" fill="#c0c0c0"/><rect x="509" y="626" width="1" height="89" fill="#c0c0c0"/><rect x="517" y="626" width="1" height="89" fill="#c0c0c0"/><rect x="525" y="630" width="1" height="85" fill="#c0c0c0"/><rect x="533" y="634" width="1" height="81" fill="#c0c0c0"/><rect x="541" y="639" width="1" height="76" fill="#c0c0c0"/><rect x="549" y="644" width="1" height="71" fill="#c0c0c0"/><rect x="557" y="653" width="1" height="62" fill="#c0c0c0"/><rect x="565" y="666" width="1" height="49" fill="#c0c0c0"/><rect x="573" y="677" width="1" height="38" fill="#c0c0c0"/><rect x="581" y="685" width="1" height="30" fill="#c0c0c0"/><rect x="589" y="687" width="1" height="28" fill="#c0c0c0"/><rect x="597" y="689" width="1" height="26" fill="#c0c0c0"/><rect x="605" y="690" width="1" height="25" fill="#c0c0c0"/><rect x="613" y="692" width="1" height="23" fill="#c0c0c0"/><rect x="621" y="690" width="1" height="25" fill="#c0c0c0"/><rect x="629" y="691" width="1" height="24" fill="#c0c0c0"/><rect x="637" y="693" width="1" height="22" fill="#c0c0c0"/><rect x="645" y="694" width="1" height="21" fill="#c0c0c0"/><rect x="653" y="700" width="1" height="15" fill="#c0c0c0"/><rect x="661" y="708" width="1" height="7" fill="#c0c0c0"/><rect x="669" y="713" width="1" height="2" fill="#c0c0c0"/><rect x="677" y="714" width="1" height="2" fill="#c0c0c0"/><rect x="685" y="714" width="1" height="4" fill="#c0c0c0"/><rect x="693" y="714" width="1" height="6" fill="#c0c0c0"/><rect x="701" y="714" width="1" height="3" fill="#c0c0c0"/><rect x="709" y="714" width="1" height="1" fill="#c0c0c0"/><rect x="717" y="712" width="1" height="3" fill="#c0c0c0"/><rect x="725" y="711" width="1" height="4" fill="#c0c0c0"/><rect x="733" y="710" width="1" height="5" fill="#c0c0c0"/><rect x="741" y="708" width="1" height="7" fill="#c0c0c0"/><rect x="749" y="705" width="1" height="10" fill="#c0c0c0"/><rect x="757" y="702" width="1" height="13" fill="#c0c0c0"/><rect x="765" y="699" width="1" height="16" fill="#c0c0c0"/><rect x="773" y="697" width="1" height="18" fill="#c0c0c0"/><rect x="781" y="695" width="1" height="20" fill="#c0c0c0"/><rect x="789" y="695" width="1" height="20" fill="#c0c0c0"/><rect x="797" y="696" width="1" height="19" fill="#c0c0c0"/><rect x="805" y="698" width="1" height="17" fill="#c0c0c0"/><rect x="813" y="701" width="1" height="14" fill="#c0c0c0"/><rect x="821" y="702" width="1" height="13" fill="#c0c0c0"/><rect x="829" y="704" width="1" height="11" fill="#c0c0c0"/><rect x="837" y="704" width="1" height="11" fill="#c0c0c0"/><rect x="845" y="703" width="1" height="12" fill="#c0c0c0"/><rect x="853" y="706" width="1" height="9" fill="#c0c0c0"/><rect x="861" y="712" width="1" height="3" fill="#c0c0c0"/><rect x="869" y="714" width="1" height="1" fill="#c0c0c0"/><rect x="877" y="714" width="1" height="1" fill="#c0c0c0"/><rect x="885" y="714" width="1" height="3" fill="#c0c0c0"/><rect x="893" y="714" width="1" height="3" fill="#c0c0c0"/><rect x="909" y="709" width="1" height="6" fill="#c0c0c0"/><rect x="917" y="705" width="1" height="10" fill="#c0c0c0"/><rect x="925" y="701" width="1" height="14" fill="#c0c0c0"/><rect x="933" y="699" width="1" height="16" fill="#c0c0c0"/><rect x="941" y="698" width="1" height="17" fill="#c0c0c0"/><rect x="949" y="700" width="1" height="15" fill="#c0c0c0"/><rect x="957" y="705" width="1" height="10" fill="#c0c0c0"/><rect x="965" y="708" width="1" height="7" fill="#c0c0c0"/><rect x="973" y="708" width="1" height="7" fill="#c0c0c0"/><rect x="981" y="710" width="1" height="5" fill="#c0c0c0"/><rect x="989" y="709" width="1" height="6" fill="#c0c0c0"/><rect x="997" y="710" width="1" height="5" fill="#c0c0c0"/><rect x="1005" y="710" width="1" height="5" fill="#c0c0c0"/><rect x="1013" y="709" width="1" height="6" fill="#c0c0c0"/><rect x="1021" y="711" width="1" height="4" fill="#c0c0c0"/><rect x="1029" y="713" width="1" height="2" fill="#c0c0c0"/><rect x="1037" y="714" width="1" height="1" fill="#c0c0c0"/><rect x="1045" y="713" width="1" height="2" fill="#c0c0c0"/><rect x="1053" y="712" width="1" height="3" fill="#c0c0c0"/><rect x="1061" y="707" width="1" height="8" fill="#c0c0c0"/><rect x="1069" y="703" width="1" height="12" fill="#c0c0c0"/><rect x="1077" y="703" width="1" height="12" fill="#c0c0c0"/><rect x="1085" y="702" width="1" height="13" fill="#c0c0c0"/><rect x="1093" y="701" width="1" height="14" fill="#c0c0c0"/><rect x="1101" y="700" width="1" height="15" fill="#c0c0c0"/><rect x="1109" y="700" width="1" height="15" fill="#c0c0c0"/><rect x="1117" y="701" width="1" height="14" fill="#c0c0c0"/><rect x="1125" y="702" width="1" height="13" fill="#c0c0c0"/><rect x="1133" y="705" width="1" height="10" fill="#c0c0c0"/><rect x="1141" y="707" width="1" height="8" fill="#c0c0c0"/><rect x="1149" y="709" width="1" height="6" fill="#c0c0c0"/><rect x="1157" y="714" width="1" height="1" fill="#c0c0c0"/><rect x="1165" y="714" width="1" height="3" fill="#c0c0c0"/><rect x="1173" y="714" width="1" height="5" fill="#c0c0c0"/><rect x="1181" y="714" width="1" height="9" fill="#c0c0c0"/><rect x="1189" y="714" width="1" height="13" fill="#c0c0c0"/><rect x="1197" y="714" width="1" height="15" fill="#c0c0c0"/><rect x="1205" y="714" width="1" height="18" fill="#c0c0c0"/><rect x="1213" y="714" width="1" height="20" fill="#c0c0c0"/><rect x="1221" y="714" width="1" height="20" fill="#c0c0c0"/><rect x="1229" y="714" width="1" height="18" fill="#c0c0c0"/><rect x="1237" y="714" width="1" height="16" fill="#c0c0c0"/><rect x="1245" y="714" width="1" height="15" fill="#c0c0c0"/><rect x="1253" y="714" width="1" height="12" fill="#c0c0c0"/><rect x="1261" y="714" width="1" height="12" fill="#c0c0c0"/><rect x="1269" y="714" width="1" height="13" fill="#c0c0c0"/><rect x="1277" y="714" width="1" height="15" fill="#c0c0c0"/><rect x="1285" y="714" width="1" height="15" fill="#c0c0c0"/><rect x="1293" y="714" width="1" height="14" fill="#c0c0c0"/><rect x="1301" y="714" width="1" height="8" fill="#c0c0c0"/><rect x="1309" y="714" width="1" height="6" fill="#c0c0c0"/><rect x="1317" y="714" width="1" height="5" fill="#c0c0c0"/><rect x="1325" y="714" width="1" height="3" fill="#c0c0c0"/><rect x="1333" y="714" width="1" height="5" fill="#c0c0c0"/>
<path d="M526 623.5h3M514 624.5h3M520 624.5h2M532 624.5h3M508 625.5h3M538 625.5h3M503 627.5h2M545 627.5h2M550 629.5h2M496 630.5h2M557 632.5h2M491 633.5h2M568 640.5h2M473 648.5h2M580 649.5h2M468 652.5h2M593 659.5h2M443 672.5h2M610 673.5h2M616 677.5h2M622 681.5h2M628 684.5h2M425 685.5h2M635 687.5h2M419 688.5h2M640 688.5h3M646 689.5h2M413 691.5h2M652 691.5h3M407 692.5h3M658 692.5h2M401 694.5h2M664 694.5h3M395 695.5h3M389 696.5h3M384 697.5h2M671 697.5h2M820 697.5h3M826 697.5h3M832 697.5h2M173 698.5h3M179 698.5h3M185 698.5h3M191 698.5h3M197 698.5h3M203 698.5h3M209 698.5h3M215 698.5h3M221 698.5h3M377 698.5h3M803 698.5h2M808 698.5h3M814 698.5h3M838 698.5h2M167 699.5h3M227 699.5h3M365 699.5h3M371 699.5h2M676 699.5h3M844 699.5h3M161 700.5h3M233 700.5h3M239 700.5h3M353 700.5h3M359 700.5h3M796 700.5h3M850 700.5h3M155 701.5h3M245 701.5h3M341 701.5h3M347 701.5h3M682 701.5h2M790 701.5h3M857 701.5h2M1120 701.5h3M1126 701.5h3M1132 701.5h3M1138 701.5h3M1144 701.5h2M149 702.5h3M252 702.5h2M257 702.5h3M329 702.5h3M335 702.5h3M784 702.5h3M862 702.5h2M1115 702.5h2M1150 702.5h3M143 703.5h3M263 703.5h3M269 703.5h3M317 703.5h3M323 703.5h3M779 703.5h2M964 703.5h3M970 703.5h3M976 703.5h3M982 703.5h3M988 703.5h3M994 703.5h2M1156 703.5h3M137 704.5h3M275 704.5h3M281 704.5h2M305 704.5h3M311 704.5h3M689 704.5h2M869 704.5h2M959 704.5h2M1000 704.5h3M1108 704.5h3M1162 704.5h2M131 705.5h3M287 705.5h3M293 705.5h3M299 705.5h3M694 705.5h2M874 705.5h2M952 705.5h3M1102 705.5h3M772 706.5h3M946 706.5h3M1007 706.5h2M1090 706.5h3M1096 706.5h2M1169 706.5h2M125 707.5h2M700 707.5h2M767 707.5h2M881 707.5h2M1012 707.5h3M1174 707.5h2M886 708.5h2M940 708.5h3M1019 708.5h2M1024 708.5h2M1072 708.5h3M1078 708.5h3M1084 708.5h3M119 709.5h2M760 709.5h3M934 709.5h3M1030 709.5h3M1036 709.5h3M1066 709.5h3M114 710.5h2M706 710.5h2M755 710.5h2M893 710.5h2M929 710.5h2M1042 710.5h3M1048 710.5h3M1054 710.5h3M1060 710.5h3M1180 710.5h2M899 711.5h2M904 711.5h3M910 711.5h3M922 711.5h3M108 712.5h2M712 712.5h3M748 712.5h3M916 712.5h3M1186 712.5h2M718 713.5h3M742 713.5h3M724 714.5h3M730 714.5h3M736 714.5h3M1192 714.5h2M101 715.5h2M95 716.5h3M1198 716.5h2M5 717.5h2M89 718.5h2M11 719.5h3M83 719.5h3M1205 719.5h2M17 720.5h3M77 720.5h3M23 721.5h3M71 721.5h3M29 722.5h3M35 722.5h2M65 722.5h3M1211 722.5h2M41 723.5h3M47 723.5h2M59 723.5h3M1330 723.5h3M53 724.5h3M1217 724.5h2M1324 724.5h3M1318 725.5h3M1223 726.5h2M1306 726.5h3M1312 726.5h2M1228 727.5h3M1300 727.5h3M1294 728.5h3M1235 729.5h2M1282 729.5h3M1288 729.5h2M1240 730.5h3M1246 730.5h3M1252 730.5h3M1258 730.5h3M1264 730.5h3M1270 730.5h3M1276 730.5h3M7.5 718v1M37.5 723v1M49.5 724v1M91.5 717v1M103.5 714v1M107.5 713v1M113.5 711v1M121.5 708v1M127.5 706v1M251.5 701v1M283.5 705v1M373.5 698v1M383.5 698v1M403.5 693v1M415.5 690v1M421.5 687v1M427.5 684v1M431.5 682v1M432.5 681v1M433.5 680v1M437.5 677v1M438.5 676v1M439.5 675v1M445.5 671v1M449.5 668v1M450.5 667v1M451.5 666v1M455.5 663v1M456.5 662v1M457.5 661v1M461.5 658v1M462.5 657v1M463.5 656v1M467.5 653v1M475.5 647v1M478.5 643v1M479.5 642v1M480.5 641v1M484.5 638v1M485.5 637v1M486.5 636v1M490.5 634v1M498.5 629v1M502.5 628v1M522.5 623v1M544.5 626v1M552.5 630v1M556.5 631v1M562.5 635v1M563.5 636v1M564.5 637v1M570.5 641v1M574.5 644v1M575.5 645v1M576.5 646v1M582.5 650v1M586.5 653v1M587.5 654v1M588.5 655v1M592.5 658v1M598.5 663v1M599.5 664v1M600.5 665v1M604.5 668v1M605.5 669v1M606.5 670v1M612.5 674v1M618.5 678v1M624.5 682v1M630.5 685v1M634.5 686v1M648.5 690v1M660.5 693v1M670.5 696v1M684.5 702v1M688.5 703v1M696.5 706v1M702.5 708v1M708.5 711v1M754.5 711v1M766.5 708v1M778.5 704v1M802.5 699v1M834.5 698v1M840.5 699v1M856.5 700v1M864.5 703v1M868.5 703v1M876.5 706v1M880.5 706v1M888.5 709v1M892.5 709v1M898.5 710v1M928.5 711v1M958.5 705v1M996.5 704v1M1006.5 705v1M1018.5 707v1M1026.5 709v1M1098.5 705v1M1114.5 703v1M1146.5 702v1M1164.5 705v1M1168.5 705v1M1176.5 708v1M1182.5 711v1M1188.5 713v1M1194.5 715v1M1200.5 717v1M1204.5 718v1M1210.5 721v1M1216.5 723v1M1222.5 725v1M1234.5 728v1M1290.5 728v1M1314.5 725v1" fill="none" stroke="#ff0000" stroke-width="1"/>
</g>
<g id="rsi" shape-rendering="crispEdges">
<path d="M5 782.5H1690M5 832.5H1690" stroke="#c0c0c0" stroke-width="1" stroke-dasharray="3 3" fill="none"/>
<path d="M435 754.5h11M431 755.5h4M429 756.5h2M425 759.5h2M481 759.5h5M473 760.5h8M467 761.5h6M463 762.5h4M420 763.5h2M453 763.5h10M417 764.5h3M415 765.5h2M411 766.5h4M407 767.5h4M404 768.5h3M401 769.5h3M399 770.5h2M396 771.5h3M508 771.5h10M394 772.5h2M497 772.5h2M506 772.5h2M392 773.5h2M504 773.5h2M390 774.5h2M502 774.5h2M387 776.5h2M385 777.5h2M157 779.5h2M382 779.5h2M529 779.5h5M155 780.5h2M159 780.5h2M525 780.5h4M153 781.5h2M161 781.5h3M535 781.5h2M164 782.5h3M340 782.5h2M92 783.5h2M150 783.5h2M167 783.5h2M338 783.5h2M377 783.5h2M89 784.5h3M139 784.5h11M169 784.5h3M177 784.5h13M336 784.5h2M539 784.5h2M87 785.5h2M135 785.5h4M172 785.5h5M334 785.5h2M541 785.5h2M83 786.5h4M133 786.5h2M300 786.5h2M331 786.5h3M365 786.5h4M543 786.5h2M79 787.5h4M97 787.5h2M298 787.5h2M327 787.5h4M369 787.5h5M545 787.5h3M73 788.5h6M296 788.5h2M303 788.5h2M316 788.5h11M548 788.5h2M1067 788.5h3M61 789.5h12M129 789.5h2M294 789.5h2M314 789.5h2M779 789.5h3M1063 789.5h4M101 790.5h18M312 790.5h2M775 790.5h4M782 790.5h2M1061 790.5h2M119 791.5h2M291 791.5h2M307 791.5h2M310 791.5h2M761 791.5h14M909 791.5h4M121 792.5h3M289 792.5h2M755 792.5h6M785 792.5h2M913 792.5h14M124 793.5h2M751 793.5h4M787 793.5h2M927 793.5h4M286 794.5h2M356 794.5h2M749 794.5h2M931 794.5h4M353 795.5h3M617 795.5h2M747 795.5h2M935 795.5h2M1092 795.5h3M213 796.5h2M244 796.5h3M260 796.5h2M283 796.5h2M351 796.5h2M625 796.5h2M791 796.5h2M937 796.5h3M1089 796.5h3M1095 796.5h2M211 797.5h2M215 797.5h2M242 797.5h2M247 797.5h2M257 797.5h3M281 797.5h2M349 797.5h2M804 797.5h2M940 797.5h2M1087 797.5h2M1097 797.5h3M209 798.5h2M217 798.5h3M240 798.5h2M249 798.5h3M255 798.5h2M709 798.5h2M743 798.5h2M801 798.5h3M844 798.5h2M1083 798.5h4M1100 798.5h13M220 799.5h2M238 799.5h2M252 799.5h3M278 799.5h2M601 799.5h13M629 799.5h2M644 799.5h2M707 799.5h2M711 799.5h4M795 799.5h2M799 799.5h2M842 799.5h2M943 799.5h2M1079 799.5h4M1113 799.5h8M206 800.5h2M265 800.5h2M276 800.5h2M593 800.5h8M631 800.5h2M641 800.5h3M705 800.5h2M715 800.5h4M739 800.5h3M797 800.5h2M840 800.5h2M1077 800.5h2M1121 800.5h5M197 801.5h9M273 801.5h3M589 801.5h4M633 801.5h3M639 801.5h2M719 801.5h4M735 801.5h4M838 801.5h2M1305 801.5h2M271 802.5h2M636 802.5h3M702 802.5h2M723 802.5h12M836 802.5h2M947 802.5h2M1049 802.5h2M269 803.5h2M833 803.5h3M988 803.5h3M1004 803.5h10M821 804.5h4M831 804.5h2M986 804.5h2M991 804.5h2M1001 804.5h3M1309 804.5h2M819 805.5h2M825 805.5h6M973 805.5h2M984 805.5h2M993 805.5h3M999 805.5h2M1311 805.5h4M1321 805.5h5M971 806.5h2M975 806.5h4M982 806.5h2M996 806.5h3M1041 806.5h5M1315 806.5h6M979 807.5h3M1017 807.5h2M1036 807.5h5M1251 807.5h3M815 808.5h2M1034 808.5h2M1140 808.5h5M1247 808.5h4M967 809.5h2M1032 809.5h2M1138 809.5h2M1145 809.5h5M1244 809.5h3M1329 809.5h2M869 810.5h2M891 810.5h3M1021 810.5h4M1030 810.5h2M1136 810.5h2M1241 810.5h3M580 811.5h2M871 811.5h4M887 811.5h4M963 811.5h3M1025 811.5h5M1134 811.5h2M1239 811.5h2M1257 811.5h2M578 812.5h2M689 812.5h5M875 812.5h12M959 812.5h4M1233 812.5h6M49 813.5h5M576 813.5h2M684 813.5h5M957 813.5h2M1228 813.5h5M41 814.5h8M565 814.5h4M574 814.5h2M681 814.5h3M1226 814.5h2M1261 814.5h2M1289 814.5h2M5 815.5h2M37 815.5h4M569 815.5h5M654 815.5h2M679 815.5h2M1224 815.5h2M1263 815.5h4M7 816.5h2M668 816.5h11M1222 816.5h2M1267 816.5h3M9 817.5h3M657 817.5h2M665 817.5h3M12 818.5h10M659 818.5h2M663 818.5h2M1169 818.5h2M1271 818.5h2M1284 818.5h2M22 819.5h2M661 819.5h2M1282 819.5h2M1217 820.5h2M1280 820.5h2M25 821.5h2M1195 821.5h2M1198 821.5h2M1275 821.5h2M1278 821.5h2M27 822.5h2M1157 822.5h9M1200 822.5h2M1181 823.5h2M1202 823.5h2M1183 824.5h2M1191 824.5h2M1204 824.5h10M1185 825.5h3M1188 826.5h2M24.5 820v1M29.5 823v1M30.5 822v1M31.5 821v1M32.5 820v1M33.5 819v1M34.5 818v1M35.5 817v1M36.5 816v1M53.5 812v1M54.5 809v3M55.5 806v3M56.5 803v3M57.5 800v3M58.5 797v3M59.5 794v3M60.5 791v3M61.5 790v1M94.5 784v1M95.5 785v1M96.5 786v1M99.5 788v1M100.5 789v1M126.5 792v1M127.5 791v1M128.5 790v1M131.5 788v1M132.5 787v1M152.5 782v1M189.5 785v1M190.5 786v2M191.5 788v2M192.5 790v2M193.5 792v2M194.5 794v2M195.5 796v2M196.5 798v2M197.5 800v1M208.5 799v1M222.5 800v2M223.5 802v2M224.5 804v2M225.5 806v1M226.5 807v2M227.5 809v2M228.5 811v2M229.5 813v1M230.5 811v2M231.5 809v2M232.5 808v1M233.5 806v2M234.5 805v1M235.5 803v2M236.5 801v2M237.5 800v1M262.5 797v1M263.5 798v1M264.5 799v1M267.5 801v1M268.5 802v1M280.5 798v1M285.5 795v1M288.5 793v1M293.5 790v1M302.5 787v1M305.5 789v1M306.5 790v1M309.5 792v1M342.5 783v2M343.5 785v2M344.5 787v2M345.5 789v2M346.5 791v2M347.5 793v2M348.5 795v2M358.5 793v1M359.5 792v1M360.5 791v1M361.5 790v1M362.5 789v1M363.5 788v1M364.5 787v1M374.5 786v1M375.5 785v1M376.5 784v1M379.5 782v1M380.5 781v1M381.5 780v1M384.5 778v1M389.5 775v1M422.5 762v1M423.5 761v1M424.5 760v1M427.5 758v1M428.5 757v1M446.5 755v1M447.5 756v1M448.5 757v1M449.5 758v2M450.5 760v1M451.5 761v1M452.5 762v1M486.5 760v1M487.5 761v1M488.5 762v1M489.5 763v2M490.5 765v1M491.5 766v1M492.5 767v1M493.5 768v1M494.5 769v1M495.5 770v1M496.5 771v1M499.5 773v1M500.5 774v1M501.5 775v1M518.5 772v1M519.5 773v1M520.5 774v1M521.5 775v2M522.5 777v1M523.5 778v1M524.5 779v1M534.5 780v1M537.5 782v1M538.5 783v1M550.5 789v1M551.5 790v2M552.5 792v1M553.5 793v1M554.5 794v1M555.5 795v2M556.5 797v1M557.5 798v1M558.5 799v2M559.5 801v2M560.5 803v2M561.5 805v2M562.5 807v2M563.5 809v2M564.5 811v2M565.5 813v1M582.5 810v1M583.5 808v2M584.5 807v1M585.5 806v1M586.5 805v1M587.5 803v2M588.5 802v1M614.5 798v1M615.5 797v1M616.5 796v1M619.5 794v1M620.5 793v1M621.5 792v1M622.5 793v1M623.5 794v1M624.5 795v1M627.5 797v1M628.5 798v1M646.5 800v2M647.5 802v2M648.5 804v2M649.5 806v2M650.5 808v2M651.5 810v2M652.5 812v2M653.5 814v1M656.5 816v1M694.5 811v1M695.5 810v1M696.5 809v1M697.5 807v2M698.5 806v1M699.5 805v1M700.5 804v1M701.5 803v1M704.5 801v1M742.5 799v1M745.5 797v1M746.5 796v1M784.5 791v1M789.5 794v1M790.5 795v1M793.5 797v1M794.5 798v1M806.5 798v2M807.5 800v2M808.5 802v1M809.5 803v2M810.5 805v1M811.5 806v2M812.5 808v2M813.5 810v1M814.5 809v1M817.5 807v1M818.5 806v1M846.5 799v2M847.5 801v1M848.5 802v1M849.5 803v2M850.5 805v1M851.5 806v1M852.5 807v2M853.5 809v1M854.5 810v2M855.5 812v1M856.5 813v1M857.5 814v2M858.5 816v1M859.5 817v1M860.5 818v2M861.5 820v1M862.5 819v1M863.5 817v2M864.5 816v1M865.5 815v1M866.5 814v1M867.5 812v2M868.5 811v1M894.5 809v1M895.5 807v2M896.5 806v1M897.5 805v1M898.5 804v1M899.5 802v2M900.5 801v1M901.5 800v1M902.5 799v1M903.5 798v1M904.5 797v1M905.5 795v2M906.5 794v1M907.5 793v1M908.5 792v1M942.5 798v1M945.5 800v1M946.5 801v1M949.5 803v1M950.5 804v1M951.5 805v2M952.5 807v1M953.5 808v1M954.5 809v1M955.5 810v2M956.5 812v1M966.5 810v1M969.5 808v1M970.5 807v1M1014.5 804v1M1015.5 805v1M1016.5 806v1M1019.5 808v1M1020.5 809v1M1046.5 805v1M1047.5 804v1M1048.5 803v1M1051.5 801v1M1052.5 800v1M1053.5 799v1M1054.5 798v1M1055.5 797v1M1056.5 796v1M1057.5 794v2M1058.5 793v1M1059.5 792v1M1060.5 791v1M1070.5 789v2M1071.5 791v1M1072.5 792v2M1073.5 794v1M1074.5 795v2M1075.5 797v1M1076.5 798v2M1126.5 801v2M1127.5 803v1M1128.5 804v2M1129.5 806v1M1130.5 807v2M1131.5 809v1M1132.5 810v2M1133.5 812v1M1150.5 810v2M1151.5 812v2M1152.5 814v1M1153.5 815v2M1154.5 817v1M1155.5 818v2M1156.5 820v2M1166.5 821v1M1167.5 820v1M1168.5 819v1M1171.5 817v1M1172.5 816v1M1173.5 815v1M1174.5 816v1M1175.5 817v1M1176.5 818v1M1177.5 819v1M1178.5 820v1M1179.5 821v1M1180.5 822v1M1190.5 825v1M1193.5 823v1M1194.5 822v1M1197.5 820v1M1214.5 823v1M1215.5 822v1M1216.5 821v1M1219.5 819v1M1220.5 818v1M1221.5 817v1M1254.5 808v1M1255.5 809v1M1256.5 810v1M1259.5 812v1M1260.5 813v1M1270.5 817v1M1273.5 819v1M1274.5 820v1M1277.5 822v1M1286.5 817v1M1287.5 816v1M1288.5 815v1M1291.5 813v1M1292.5 812v1M1293.5 811v1M1294.5 809v2M1295.5 807v2M1296.5 805v2M1297.5 804v1M1298.5 802v2M1299.5 800v2M1300.5 798v2M1301.5 797v1M1302.5 798v1M1303.5 799v1M1304.5 800v1M1307.5 802v1M1308.5 803v1M1326.5 806v1M1327.5 807v1M1328.5 808v1M1331.5 810v1M1332.5 811v1M1333.5 812v1" fill="none" stroke="#1e90ff" stroke-width="1"/>
</g>
<g id="labels">
<path d="M8 35h7l-3.5 4z" fill="#000"/>
<text class="t" transform="translate(20,40) scale(0.964,1)">CHINA300-,H4</text><text class="t" transform="translate(90.6,40) scale(0.909,1)">4680.4 4682.6 4590.6 4614.9</text>
<text class="t" transform="translate(9,624) scale(0.93,1)">MACD(12,26,9) -9.34 -18.89</text>
<text class="t" transform="translate(9,755) scale(0.92,1)">RSI(14) 45.0933</text>
<text class="t" transform="translate(1695.7,49) scale(0.905,1)">4918.0</text><text class="t" transform="translate(1695.7,82) scale(0.905,1)">4850.0</text><text class="t" transform="translate(1695.7,115) scale(0.905,1)">4782.0</text><text class="t" transform="translate(1695.7,148) scale(0.905,1)">4714.0</text><text class="t" transform="translate(1695.7,181) scale(0.905,1)">4644.0</text><text class="t" transform="translate(1695.7,214) scale(0.905,1)">4576.0</text><text class="t" transform="translate(1695.7,247) scale(0.905,1)">4508.0</text><text class="t" transform="translate(1695.7,280) scale(0.905,1)">4438.0</text><text class="t" transform="translate(1695.7,313) scale(0.905,1)">4370.0</text><text class="t" transform="translate(1695.7,346) scale(0.905,1)">4302.0</text><text class="t" transform="translate(1695.7,379) scale(0.905,1)">4234.0</text><text class="t" transform="translate(1695.7,412) scale(0.905,1)">4164.0</text><text class="t" transform="translate(1695.7,445) scale(0.905,1)">4096.0</text><text class="t" transform="translate(1695.7,478) scale(0.905,1)">4028.0</text><text class="t" transform="translate(1695.7,511) scale(0.905,1)">3958.0</text><text class="t" transform="translate(1695.7,544) scale(0.905,1)">3890.0</text><text class="t" transform="translate(1695.7,577) scale(0.905,1)">3822.0</text><text class="t" transform="translate(1695.7,610) scale(0.905,1)">3754.0</text>
<text class="w" transform="translate(1695.7,195) scale(0.905,1)">4614.9</text>
<rect x="1692" y="180" width="33" height="11" fill="#32cd32"/>
<text class="w" transform="translate(1695.7,105) scale(0.905,1)">4800.0</text>
<text class="w" transform="translate(1695.7,189) scale(0.905,1)">4625.0</text>
<text class="w" transform="translate(1695.7,257) scale(0.905,1)">4485.0</text>
<text class="w" transform="translate(1695.7,334) scale(0.905,1)">4325.0</text>
<text class="t" transform="translate(1694,622) scale(0.905,1)">216.78</text>
<text class="t" transform="translate(1694,718) scale(0.905,1)">0.00</text>
<text class="t" transform="translate(1694,737) scale(0.905,1)">-53.53</text>
<text class="t" transform="translate(1694,753) scale(0.905,1)">100</text>
<text class="t" transform="translate(1694,786) scale(0.905,1)">70</text>
<text class="t" transform="translate(1694,836) scale(0.905,1)">30</text>
<text class="t" transform="translate(1694,868) scale(0.905,1)">0</text>
<text class="t" transform="translate(4.2,884) scale(0.945,1)">26 May 2020</text><text class="t" transform="translate(67.8,884) scale(0.915,1)">1 Jun 05:00</text><text class="t" transform="translate(131.8,884) scale(0.915,1)">5 Jun 05:00</text><text class="t" transform="translate(195.8,884) scale(0.915,1)">11 Jun 05:00</text><text class="t" transform="translate(259.8,884) scale(0.915,1)">17 Jun 05:00</text><text class="t" transform="translate(323.8,884) scale(0.915,1)">23 Jun 05:00</text><text class="t" transform="translate(387.8,884) scale(0.915,1)">1 Jul 05:00</text><text class="t" transform="translate(451.8,884) scale(0.915,1)">7 Jul 05:00</text><text class="t" transform="translate(515.8,884) scale(0.915,1)">13 Jul 05:00</text><text class="t" transform="translate(579.8,884) scale(0.915,1)">17 Jul 05:00</text><text class="t" transform="translate(643.8,884) scale(0.915,1)">23 Jul 05:00</text><text class="t" transform="translate(707.8,884) scale(0.915,1)">29 Jul 05:00</text><text class="t" transform="translate(771.8,884) scale(0.915,1)">4 Aug 05:00</text><text class="t" transform="translate(835.8,884) scale(0.915,1)">10 Aug 05:00</text><text class="t" transform="translate(899.8,884) scale(0.915,1)">14 Aug 05:00</text><text class="t" transform="translate(963.8,884) scale(0.915,1)">20 Aug 05:00</text><text class="t" transform="translate(1027.8,884) scale(0.915,1)">26 Aug 05:00</text><text class="t" transform="translate(1091.8,884) scale(0.915,1)">1 Sep 05:00</text><text class="t" transform="translate(1155.8,884) scale(0.915,1)">7 Sep 05:00</text><text class="t" transform="translate(1219.8,884) scale(0.915,1)">11 Sep 05:00</text><text class="t" transform="translate(1283.8,884) scale(0.915,1)">17 Sep 05:00</text>
<text class="note" x="1389.5" y="159.3">多空转折点<tspan class="noted" dy="-1.3" dx="-1.5">4625</tspan></text>
</g>
</svg>
</body></html>
